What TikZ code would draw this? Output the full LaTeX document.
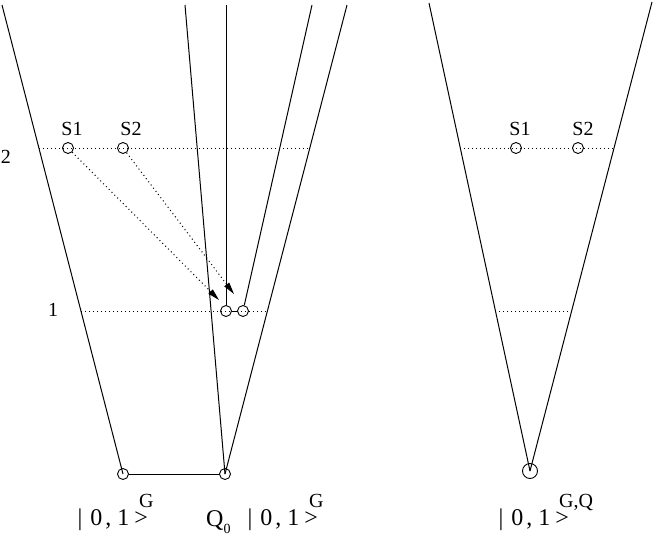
\documentclass[tikz,border=0pt]{standalone}
\usepackage{fontspec}
\setmainfont{Liberation Serif}
\usetikzlibrary{arrows.meta}
\newcommand\ketzo{|\hspace{8pt}0\hspace{3pt},\hspace{6pt}1\hspace{5pt}>}
\tikzset{
  edge/.style={line width=1pt, draw=black},
  lvl/.style={line width=1pt, draw=black, dash pattern=on 1pt off 3pt},
  arr/.style={lvl, -{Triangle[length=12pt,width=6pt]}},
  dot/.style={circle, draw=black, line width=0.9pt, minimum size=11pt, inner sep=0pt},
  bigdot/.style={dot, minimum size=15pt},
  lbl/.style={inner sep=0pt, font=\fontsize{20}{22}\selectfont},
  mainlbl/.style={inner sep=0pt, font=\fontsize{24}{26}\selectfont, anchor=base west},
  suplbl/.style={inner sep=0pt, font=\fontsize{20}{22}\selectfont, anchor=base west},
  sublbl/.style={inner sep=0pt, font=\fontsize{14}{16}\selectfont, anchor=base west}
}
\begin{document}
\begin{tikzpicture}[x=1pt,y=-1pt]
\useasboundingbox (0,0) rectangle (654,536);
% circles
\node[dot] (s1) at (68,148) {};
\node[dot] (s2) at (123,148) {};
\node[dot] (q1) at (226,311) {};
\node[dot] (q2) at (243,311) {};
\node[dot] (b1) at (123,474) {};
\node[dot] (b2) at (225,474) {};
\node[dot] (r1) at (516,148) {};
\node[dot] (r2) at (578,148) {};
\node[bigdot] (c) at (530,471) {};
% free ends
\coordinate (t1) at (2,5);
\coordinate (t2) at (185,5);
\coordinate (t3) at (226,5);
\coordinate (t4) at (312,5);
\coordinate (t5) at (347,5);
\coordinate (t6) at (429,3);
\coordinate (t7) at (652,2);
\coordinate (l2a) at (39,148);
\coordinate (l2b) at (310,148);
\coordinate (l1a) at (81,311);
\coordinate (l1b) at (269,311);
\coordinate (r2a) at (460,148);
\coordinate (r2b) at (614,148);
\coordinate (r1a) at (495,311);
\coordinate (r1b) at (572,311);
\coordinate (h1) at (219,300);
\coordinate (h2) at (234,294);
% cone lines
\draw[edge] (t1) -- (b1.center);
\draw[edge] (t2) -- (b2.center);
\draw[edge] (t5) -- (b2.center);
\draw[edge] (t3) -- (q1);
\draw[edge] (t4) -- (q2);
\draw[edge] (q1) -- (q2);
\draw[edge] (b1) -- (b2);
\draw[edge] (t6) -- (c.center);
\draw[edge] (t7) -- (c.center);
% levels
\draw[lvl] (l2a) -- (l2b);
\draw[lvl] (l1a) -- (l1b);
\draw[lvl] (r2a) -- (r2b);
\draw[lvl] (r1a) -- (r1b);
% arrows
\draw[arr] (s1) -- (h1);
\draw[arr] (s2) -- (h2);
% labels
\node[lbl] (n2) at (6,157) {2};
\node[lbl] (n1) at (53,310) {1};
\node[lbl, anchor=base] (ls1) at (72,135) {S1};
\node[lbl, anchor=base] (ls2) at (131,135) {S2};
\node[lbl, anchor=base] (lr1) at (520,135) {S1};
\node[lbl, anchor=base] (lr2) at (583,135) {S2};
% bottom labels
\node[mainlbl] (k1) at (77.4,525) {\ketzo};
\node[suplbl] (g1) at (139,507) {G};
\node[mainlbl] (q0) at (206,526) {Q};
\node[sublbl] (q0s) at (223.5,533) {0};
\node[mainlbl] (k2) at (247.4,525) {\ketzo};
\node[suplbl] (g2) at (309,507) {G};
\node[mainlbl] (k3) at (498.4,525) {\ketzo};
\node[suplbl] (g3) at (559,507) {G,Q};
\end{tikzpicture}
\end{document}
